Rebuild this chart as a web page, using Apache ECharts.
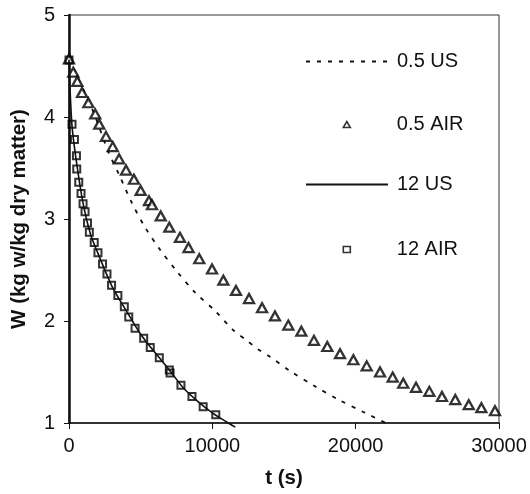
<!DOCTYPE html>
<html>
<head>
<meta charset="utf-8">
<script src="https://cdn.jsdelivr.net/npm/echarts@6/dist/echarts.min.js"></script>
<style>
  html, body { margin: 0; padding: 0; background: #fff; }
  #chart { width: 530px; height: 494px; }
</style>
</head>
<body>
<div id="chart"></div>
<script>
// Drying curves: moisture content W versus time t
const seriesNames = ['0.5 US', '0.5 AIR', '12 US', '12 AIR'];

// 0.5 US model curve
const us05Time = [0, 1700, 2740, 3510, 4380, 5300, 6350, 7510, 8790, 10190, 11460, 12400, 13210, 14020, 15420, 17160, 18790, 20650, 22400];
const us05W = [4.57, 4.05, 3.66, 3.43, 3.16, 2.92, 2.70, 2.49, 2.28, 2.10, 1.91, 1.81, 1.72, 1.65, 1.51, 1.36, 1.23, 1.10, 0.98];

// 0.5 AIR measurements
const air05Time = [0, 300, 580, 910, 1350, 1830, 2110, 2580, 3050, 3490, 3980, 4530, 5000, 5580, 5790, 6400, 7000, 7740, 8340, 9090, 9980, 10770, 11650, 12560, 13470, 14370, 15300, 16210, 17090, 18020, 18910, 19840, 20770, 21700, 22580, 23320, 24210, 25140, 26020, 26950, 27890, 28770, 29720];
const air05W = [4.57, 4.44, 4.35, 4.24, 4.14, 4.03, 3.93, 3.81, 3.71, 3.59, 3.48, 3.39, 3.28, 3.18, 3.14, 3.03, 2.92, 2.82, 2.72, 2.61, 2.51, 2.40, 2.30, 2.22, 2.13, 2.05, 1.96, 1.90, 1.81, 1.75, 1.68, 1.62, 1.56, 1.50, 1.45, 1.39, 1.35, 1.31, 1.26, 1.23, 1.18, 1.15, 1.12];

// 12 US model curve
const us12Time = [0, 200, 500, 1000, 1500, 2000, 3000, 4000, 5000, 6000, 7000, 8000, 9000, 10000, 11000, 11600];
const us12W = [4.56, 3.93, 3.58, 3.14, 2.85, 2.67, 2.34, 2.10, 1.87, 1.69, 1.52, 1.34, 1.21, 1.10, 1.01, 0.96];

// 12 AIR measurements
const air12Time = [0, 210, 380, 520, 540, 680, 840, 980, 1120, 1290, 1420, 1760, 2020, 2340, 2650, 2970, 3410, 3860, 4170, 4610, 5210, 5670, 6300, 7000, 7050, 7810, 8580, 9360, 10240];
const air12W = [4.56, 3.93, 3.78, 3.62, 3.49, 3.36, 3.25, 3.15, 3.07, 2.96, 2.87, 2.77, 2.67, 2.56, 2.46, 2.35, 2.25, 2.14, 2.04, 1.93, 1.83, 1.74, 1.64, 1.52, 1.49, 1.37, 1.26, 1.16, 1.08];

// Axis ranges and tick steps
const xTicks = [0, 10000, 20000, 30000];
const yTicks = [1, 2, 3, 4, 5];

const pairs = (xs, ys) => xs.map((x, i) => [x, ys[i]]);

const FONT = "'Liberation Sans', Arial, sans-serif";
const INK = '#111';

const legendText = (padLeft) => ({
  fontFamily: FONT, fontSize: 20, color: INK, lineHeight: 20, padding: [0, 0, 0, padLeft]
});

// One legend block per entry: long line keys for the curves, small marker keys for the measurements
const lineLegend = (name, top) => ({
  orient: 'vertical', left: 305, top: top, padding: 0,
  itemWidth: 82, itemHeight: 6,
  data: [name],
  itemStyle: { color: 'rgba(0,0,0,0)', borderWidth: 0, opacity: 0 },
  textStyle: legendText(4),
  selectedMode: false
});
const markerLegend = (name, top) => ({
  orient: 'vertical', left: 342.5, top: top, padding: 0,
  itemWidth: 7, itemHeight: 6,
  data: [name],
  itemStyle: { borderWidth: 1.6 },
  textStyle: legendText(41.5),
  selectedMode: false
});

const chart = echarts.init(document.getElementById('chart'), null, { renderer: 'canvas' });

chart.setOption({
  animation: false,
  backgroundColor: '#fff',
  textStyle: { fontFamily: FONT, color: INK },
  grid: {
    left: 69, right: 31, top: 15, bottom: 65,
    show: true, borderColor: '#333', borderWidth: 1, backgroundColor: 'transparent'
  },
  legend: [
    lineLegend(seriesNames[0], 51.5),
    markerLegend(seriesNames[1], 114.5),
    lineLegend(seriesNames[2], 174.5),
    markerLegend(seriesNames[3], 239.5)
  ],
  xAxis: {
    type: 'value',
    min: xTicks[0],
    max: xTicks[xTicks.length - 1],
    interval: xTicks[1] - xTicks[0],
    name: 't (s)',
    nameLocation: 'middle',
    nameGap: 45,
    nameTextStyle: { fontFamily: FONT, fontSize: 20.5, fontWeight: 'bold', color: INK },
    axisLine: { show: true, onZero: false, lineStyle: { color: INK, width: 1.6 } },
    axisTick: { show: true, length: 6, lineStyle: { color: INK, width: 1 } },
    axisLabel: { fontFamily: FONT, fontSize: 20, color: INK, margin: 13, formatter: (v) => String(v) },
    splitLine: { show: false }
  },
  yAxis: {
    type: 'value',
    min: yTicks[0],
    max: yTicks[yTicks.length - 1],
    interval: yTicks[1] - yTicks[0],
    name: 'W (kg w/kg dry matter)',
    nameLocation: 'middle',
    nameGap: 39,
    nameTextStyle: { fontFamily: FONT, fontSize: 20.5, fontWeight: 'bold', color: INK },
    axisLine: { show: true, onZero: false, lineStyle: { color: INK, width: 2.5 } },
    axisTick: { show: true, length: 5, lineStyle: { color: INK, width: 1 } },
    axisLabel: { fontFamily: FONT, fontSize: 20, color: INK, margin: 14 },
    splitLine: { show: false }
  },
  series: [
    {
      name: seriesNames[0],
      type: 'line',
      data: pairs(us05Time, us05W),
      symbol: 'none',
      smooth: 0.3,
      clip: false,
      lineStyle: { color: INK, width: 1.8, type: [4, 7] },
      itemStyle: { color: INK },
      z: 3
    },
    {
      name: seriesNames[1],
      type: 'scatter',
      data: pairs(air05Time, air05W),
      symbol: 'triangle',
      symbolSize: [10, 9],
      itemStyle: { color: '#fff', borderColor: '#000', borderWidth: 2.3 },
      z: 4
    },
    {
      name: seriesNames[2],
      type: 'line',
      data: pairs(us12Time, us12W),
      symbol: 'none',
      smooth: 0.3,
      clip: false,
      lineStyle: { color: INK, width: 1.6, type: 'solid' },
      itemStyle: { color: INK },
      z: 5
    },
    {
      name: seriesNames[3],
      type: 'scatter',
      data: pairs(air12Time, air12W),
      symbol: 'rect',
      symbolSize: 7,
      itemStyle: { color: 'rgba(255,255,255,0)', borderColor: '#000', borderWidth: 2 },
      z: 4
    }
  ]
});
</script>
</body>
</html>
